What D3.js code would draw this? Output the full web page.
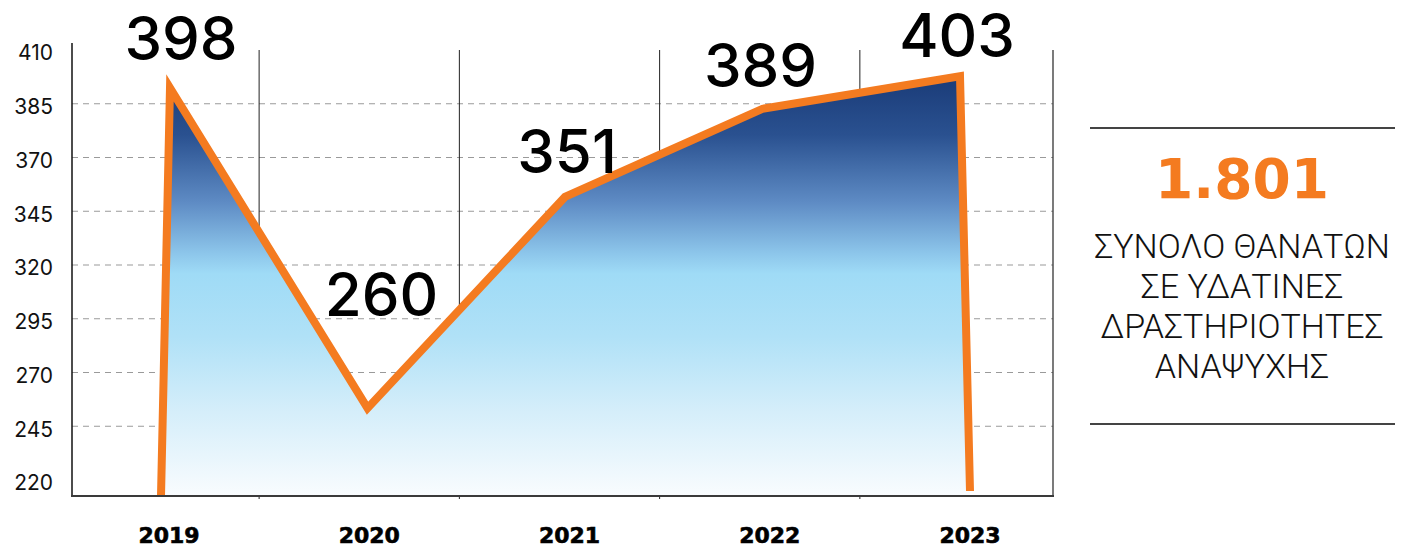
<!DOCTYPE html>
<html>
<head>
<meta charset="utf-8">
<script src="https://cdn.jsdelivr.net/npm/d3@7"></script>
<style>
  html, body { margin: 0; padding: 0; background: #fff; }
  svg { display: block; }
</style>
</head>
<body>
<svg id="chart" width="1406" height="549"></svg>
<script>
// ---- data ----
const years = ["2019", "2020", "2021", "2022", "2023"];
const deaths = [398, 260, 351, 389, 403];
const yTickLabels = ["410", "385", "370", "345", "320", "295", "270", "245", "220"];
const totalLabel = "1.801";
const panelLines = ["ΣΥΝΟΛΟ ΘΑΝΑΤΩΝ", "ΣΕ ΥΔΑΤΙΝΕΣ", "ΔΡΑΣΤΗΡΙΟΤΗΤΕΣ", "ΑΝΑΨΥΧΗΣ"];

// ---- layout (not data) ----
const plot = { left: 72, right: 1053, top: 43, gridTop: 50, bottom: 496 };
const labelDx = [11, 14, 2, -2, -3];
const labelDy = [-28, -92, -24, -22, -19];

const svg = d3.select("#chart");

const xData = d3.scalePoint().domain(years).range([170, 960]);
const xAxisScale = d3.scalePoint().domain(years).range([169, 970]);
const y = d3.scaleLinear().domain([220, 410]).range([501, 60]);
const yTick = d3.scalePoint().domain(yTickLabels).range([50, 480]);

// gradient
const defs = svg.append("defs");
const grad = defs.append("linearGradient")
  .attr("id", "fillGrad")
  .attr("gradientUnits", "userSpaceOnUse")
  .attr("x1", 0).attr("x2", 0)
  .attr("y1", y(d3.max(deaths))).attr("y2", plot.bottom);
[
  [0, "#1a3b78"],
  [0.14, "#2a5190"],
  [0.3, "#5e8bc4"],
  [0.42, "#8cc5ea"],
  [0.47, "#9fdbf6"],
  [0.62, "#b0e1f7"],
  [0.8, "#d5eefa"],
  [1, "#f9fcfe"]
].forEach(([o, c]) => grad.append("stop").attr("offset", o).attr("stop-color", c));

// dashed horizontal gridlines
const gridTicks = yTickLabels.slice(1, -1);
svg.append("g").selectAll("line").data(gridTicks).join("line")
  .attr("x1", plot.left).attr("x2", plot.right)
  .attr("y1", d => yTick(d)).attr("y2", d => yTick(d))
  .attr("stroke", "#9a9a9a").attr("stroke-width", 1.2)
  .attr("stroke-dasharray", "6,5");

// vertical separators
const step = xAxisScale.step();
const sepYears = years.slice(1);
svg.append("g").selectAll("line").data(sepYears).join("line")
  .attr("x1", d => xAxisScale(d) - 0.55 * step).attr("x2", d => xAxisScale(d) - 0.55 * step)
  .attr("y1", plot.gridTop).attr("y2", plot.bottom + 3)
  .attr("stroke", "#222").attr("stroke-width", 1);

// right frame line
svg.append("line")
  .attr("x1", plot.right).attr("x2", plot.right)
  .attr("y1", plot.gridTop).attr("y2", plot.bottom)
  .attr("stroke", "#333").attr("stroke-width", 1.3);

// area + line
const pts = deaths.map((v, i) => [xData(years[i]), y(v)]);
const areaPts = [[pts[0][0] - 9, plot.bottom], ...pts, [pts[pts.length - 1][0] + 10, plot.bottom]];
const linePts = [[pts[0][0] - 9, plot.bottom], ...pts, [pts[pts.length - 1][0] + 10, plot.bottom - 5]];

svg.append("path")
  .attr("d", d3.area().x(d => d[0]).y0(plot.bottom).y1(d => d[1])(areaPts))
  .attr("fill", "url(#fillGrad)");

svg.append("path")
  .attr("d", d3.line().x(d => d[0]).y(d => d[1])(linePts))
  .attr("fill", "none")
  .attr("stroke", "#f47b20")
  .attr("stroke-width", 8)
  .attr("stroke-linejoin", "miter")
  .attr("stroke-miterlimit", 10);

// axes lines
svg.append("line")
  .attr("x1", plot.left).attr("x2", plot.left)
  .attr("y1", plot.top).attr("y2", plot.bottom)
  .attr("stroke", "#111").attr("stroke-width", 1.5);
svg.append("line")
  .attr("x1", plot.left - 1).attr("x2", plot.right + 1)
  .attr("y1", plot.bottom).attr("y2", plot.bottom)
  .attr("stroke", "#3a3a3a").attr("stroke-width", 2);

// y tick labels
svg.append("g").selectAll("text").data(yTickLabels).join("text")
  .attr("x", 53)
  .attr("y", d => yTick(d) + 3)
  .attr("dy", "0.35em")
  .attr("text-anchor", "end")
  .attr("font-family", "Inter, 'DejaVu Sans', sans-serif")
  .attr("font-size", 21)
  .attr("fill", "#111")
  .text(d => d);

// x labels
svg.append("g").selectAll("text").data(years).join("text")
  .attr("x", d => xAxisScale(d))
  .attr("y", 543)
  .attr("text-anchor", "middle")
  .attr("font-family", "'DejaVu Sans', sans-serif")
  .attr("font-weight", "bold")
  .attr("font-size", 22)
  .attr("stroke", "#000")
  .attr("stroke-width", 0.6)
  .attr("fill", "#000")
  .text(d => d);

// value labels
svg.append("g").selectAll("text").data(deaths).join("text")
  .attr("x", (d, i) => xData(years[i]) + labelDx[i])
  .attr("y", (d, i) => y(d) + labelDy[i])
  .attr("text-anchor", "middle")
  .attr("font-family", "Inter, 'DejaVu Sans', sans-serif")
  .attr("font-weight", 500)
  .attr("font-size", 60)
  .attr("fill", "#000")
  .text(d => d);

// right panel
const panelCx = 1242;
svg.append("line").attr("x1", 1090).attr("x2", 1395).attr("y1", 128).attr("y2", 128)
  .attr("stroke", "#444").attr("stroke-width", 2);
svg.append("line").attr("x1", 1090).attr("x2", 1395).attr("y1", 424).attr("y2", 424)
  .attr("stroke", "#444").attr("stroke-width", 2);
svg.append("text")
  .attr("x", panelCx).attr("y", 198)
  .attr("text-anchor", "middle")
  .attr("font-family", "'DejaVu Sans', sans-serif")
  .attr("font-weight", "bold")
  .attr("font-size", 55)
  .attr("fill", "#f47b20")
  .text(totalLabel);
svg.append("g").selectAll("text").data(panelLines).join("text")
  .attr("x", panelCx)
  .attr("y", (d, i) => 258 + i * 40)
  .attr("text-anchor", "middle")
  .attr("font-family", "Roboto, 'DejaVu Sans', sans-serif")
  .attr("font-weight", 300)
  .attr("font-size", 34)
  .attr("fill", "#111")
  .text(d => d);
</script>
</body>
</html>
